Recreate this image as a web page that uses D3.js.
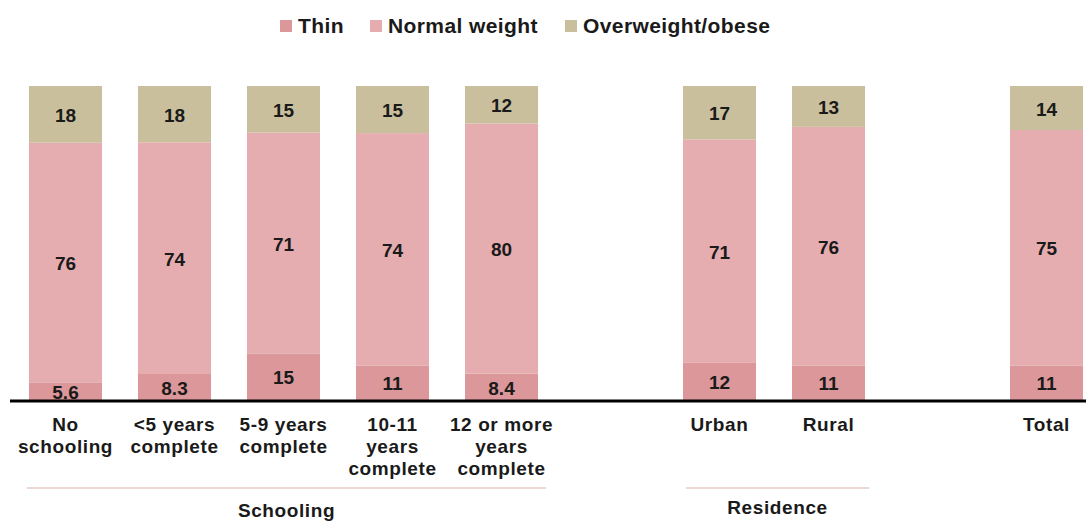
<!DOCTYPE html>
<html>
<head>
<meta charset="utf-8">
<script src="https://cdn.jsdelivr.net/npm/d3@7"></script>
<style>
  body { margin: 0; background: #fff; }
  text { font-family: "Liberation Sans", Arial, sans-serif; font-weight: bold; fill: #1a1a1a; }
</style>
</head>
<body>
<div id="viz"></div>
<script>
// data
var categories = ['No schooling', '<5 years complete', '5-9 years complete', '10-11 years complete',
                  '12 or more years complete', 'Urban', 'Rural', 'Total'];
var slots = ['No schooling', '<5 years complete', '5-9 years complete', '10-11 years complete',
             '12 or more years complete', 'gap1', 'Urban', 'Rural', 'gap2', 'Total'];
var catLines = [['No', 'schooling'], ['<5 years', 'complete'], ['5-9 years', 'complete'],
                ['10-11', 'years', 'complete'], ['12 or more', 'years', 'complete'],
                ['Urban'], ['Rural'], ['Total']];
var thin = [5.6, 8.3, 15, 11, 8.4, 12, 11, 11];
var normal = [76, 74, 71, 74, 80, 71, 76, 75];
var overweight = [18, 18, 15, 15, 12, 17, 13, 14];
var seriesNames = ['Thin', 'Normal weight', 'Overweight/obese'];
var seriesColors = ['#db9799', '#e5adaf', '#c9bf9d'];
var groups = [
  {name: 'Schooling', from: 'No schooling', to: '12 or more years complete'},
  {name: 'Residence', from: 'Urban', to: 'Rural'}
];

var width = 1086, height = 521;
var svg = d3.select('#viz').append('svg')
    .attr('width', width)
    .attr('height', height);

var rows = categories.map(function(c, i) {
  return {cat: c, 'Thin': thin[i], 'Normal weight': normal[i], 'Overweight/obese': overweight[i]};
});

var x = d3.scaleBand().domain(slots).range([11, 1101]).paddingInner(0.33).paddingOuter(0.165);
var y = d3.scaleLinear().domain([0, 1]).range([400, 86]);
var color = d3.scaleOrdinal().domain(seriesNames).range(seriesColors);

var stacked = d3.stack().keys(seriesNames).offset(d3.stackOffsetExpand)(rows);

var layer = svg.selectAll('g.layer')
    .data(stacked)
    .enter().append('g')
    .attr('class', 'layer')
    .attr('fill', function(d) { return color(d.key); });

layer.selectAll('rect')
    .data(function(d) { return d; })
    .enter().append('rect')
    .attr('x', function(d) { return x(d.data.cat); })
    .attr('width', x.bandwidth())
    .attr('y', function(d) { return y(d[1]); })
    .attr('height', function(d) { return y(d[0]) - y(d[1]); });

// value labels
stacked.forEach(function(s) {
  svg.append('g').selectAll('text')
    .data(s)
    .enter().append('text')
    .attr('x', function(d) { return x(d.data.cat) + x.bandwidth() / 2; })
    .attr('y', function(d) { return (y(d[0]) + y(d[1])) / 2 + 1; })
    .attr('dy', '0.35em')
    .attr('text-anchor', 'middle')
    .style('font-size', '19px')
    .text(function(d) { return d.data[s.key]; });
});

// baseline
svg.append('line')
    .attr('x1', 10).attr('x2', width)
    .attr('y1', 401).attr('y2', 401)
    .attr('stroke', '#000')
    .attr('stroke-width', 3);

// category labels
categories.forEach(function(c, i) {
  var t = svg.append('text')
    .attr('text-anchor', 'middle')
    .attr('x', x(c) + x.bandwidth() / 2)
    .attr('y', 431)
    .style('font-size', '19px')
    .style('letter-spacing', '0.6px');
  catLines[i].forEach(function(line, j) {
    t.append('tspan')
      .attr('x', x(c) + x.bandwidth() / 2)
      .attr('y', 431 + j * 22)
      .text(line);
  });
});

// group brackets
groups.forEach(function(g) {
  var x0 = x(g.from) - 2, x1 = x(g.to) + x.bandwidth() + 8;
  if (g.name === 'Residence') { x0 = x(g.from) + 3; x1 = x(g.to) + x.bandwidth() + 4; }
  svg.append('line')
    .attr('x1', x0).attr('x2', x1)
    .attr('y1', 488).attr('y2', 488)
    .attr('stroke', '#e3cbc4')
    .attr('stroke-width', 1.5);
  svg.append('text')
    .attr('x', (x0 + x1) / 2)
    .attr('y', g.name === 'Schooling' ? 517 : 514)
    .attr('text-anchor', 'middle')
    .style('font-size', '19px')
    .style('letter-spacing', '0.6px')
    .text(g.name);
});

// legend
var legendX = [280, 370, 565];
var legend = svg.append('g');
seriesNames.forEach(function(n, i) {
  legend.append('rect')
    .attr('x', legendX[i])
    .attr('y', 20)
    .attr('width', 12)
    .attr('height', 12)
    .attr('fill', seriesColors[i]);
  legend.append('text')
    .attr('x', legendX[i] + 18)
    .attr('y', 26)
    .attr('dy', '0.35em')
    .style('font-size', '21px')
    .style('letter-spacing', '0.4px')
    .text(n);
});
</script>
</body>
</html>
